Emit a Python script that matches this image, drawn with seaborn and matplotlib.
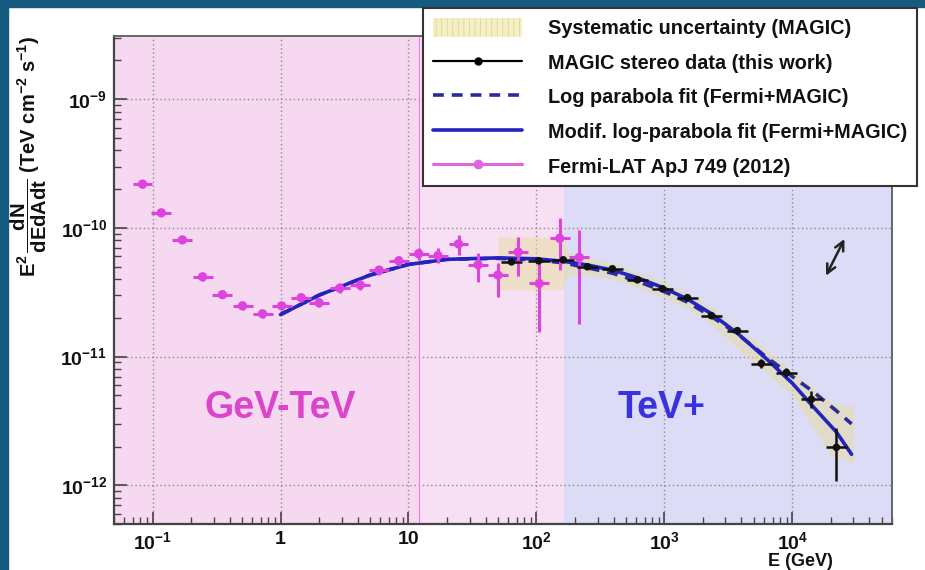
import numpy as np
import pandas as pd
import matplotlib
matplotlib.use("Agg")
import matplotlib.pyplot as plt
import seaborn as sns
from matplotlib.patches import Patch, Rectangle
from matplotlib.lines import Line2D
from matplotlib.ticker import FixedLocator, LogLocator, NullFormatter

# ---------------- data ----------------
fermi_E = [0.0835, 0.117, 0.171, 0.246, 0.352, 0.505, 0.724, 1.02, 1.45, 2.0, 2.9, 4.2,
           5.9, 8.4, 12.0, 17.0, 24.6, 35.0, 50.0, 72.0, 105.0, 152.0, 216.0]
fermi_F = [2.19e-10, 1.31e-10, 8.07e-11, 4.17e-11, 3.03e-11, 2.48e-11, 2.15e-11, 2.48e-11,
           2.87e-11, 2.62e-11, 3.4e-11, 3.6e-11, 4.7e-11, 5.55e-11, 6.3e-11, 6.1e-11,
           7.5e-11, 5.17e-11, 4.3e-11, 6.5e-11, 3.7e-11, 8.3e-11, 5.9e-11]
fermi_F_lo = [2.05e-10, 1.23e-10, 7.6e-11, 3.9e-11, 2.83e-11, 2.32e-11, 2.0e-11, 2.3e-11,
              2.66e-11, 2.42e-11, 3.1e-11, 3.28e-11, 4.3e-11, 5.05e-11, 5.6e-11, 5.3e-11,
              6.2e-11, 3.8e-11, 2.9e-11, 4.2e-11, 1.55e-11, 4.7e-11, 1.78e-11]
fermi_F_hi = [2.33e-10, 1.39e-10, 8.55e-11, 4.45e-11, 3.23e-11, 2.65e-11, 2.3e-11, 2.66e-11,
              3.08e-11, 2.83e-11, 3.7e-11, 3.95e-11, 5.1e-11, 6.1e-11, 7.0e-11, 6.95e-11,
              8.8e-11, 6.4e-11, 5.35e-11, 8.5e-11, 5.9e-11, 1.2e-10, 9.6e-11]
fermi_halfbin_dex = 0.078

magic_E = [63.8, 104, 162, 250, 392, 615, 964, 1513, 2330, 3715, 5725, 8980, 14070, 22070]
magic_F = [5.45e-11, 5.55e-11, 5.65e-11, 4.99e-11, 4.81e-11, 3.95e-11, 3.37e-11, 2.87e-11,
           2.08e-11, 1.59e-11, 8.83e-12, 7.52e-12, 4.65e-12, 1.97e-12]
magic_F_lo = [5.25e-11, 5.35e-11, 5.45e-11, 4.82e-11, 4.64e-11, 3.8e-11, 3.24e-11, 2.75e-11,
              1.98e-11, 1.5e-11, 8.2e-12, 6.9e-12, 4.0e-12, 1.07e-12]
magic_F_hi = [5.65e-11, 5.75e-11, 5.85e-11, 5.16e-11, 4.98e-11, 4.1e-11, 3.5e-11, 3.0e-11,
              2.18e-11, 1.68e-11, 9.5e-12, 8.2e-12, 5.4e-12, 2.8e-12]
magic_halfbin_dex = 0.085

fit_E = [1, 2, 5, 10, 20, 50, 100, 162, 250, 392, 615, 964, 1513, 2330, 3715, 6270,
         10000, 14300, 22000, 29000]
modlp_F = [2.12e-11, 3.0e-11, 4.3e-11, 5.2e-11, 5.7e-11, 5.85e-11, 5.75e-11, 5.5e-11,
           5.15e-11, 4.7e-11, 4.1e-11, 3.45e-11, 2.8e-11, 2.15e-11, 1.52e-11, 9.6e-12,
           6.2e-12, 4.15e-12, 2.6e-12, 1.74e-12]
logpar_F = [2.12e-11, 3.0e-11, 4.3e-11, 5.2e-11, 5.7e-11, 5.8e-11, 5.65e-11, 5.35e-11,
            4.9e-11, 4.45e-11, 3.85e-11, 3.25e-11, 2.65e-11, 2.05e-11, 1.5e-11, 9.9e-12,
            7.0e-12, 5.4e-12, 3.8e-12, 3.0e-12]

band_E = [50, 160, 175, 250, 400, 1000, 2000, 5000, 10000, 20000, 30000]
band_hi = [8.5e-11, 8.5e-11, 6.5e-11, 5.9e-11, 5.3e-11, 3.8e-11, 2.7e-11, 1.35e-11,
           7.8e-12, 4.4e-12, 4.1e-12]
band_lo = [3.3e-11, 3.3e-11, 4.3e-11, 4.3e-11, 4.0e-11, 2.9e-11, 2.0e-11, 9.0e-12,
           5.0e-12, 1.7e-12, 1.5e-12]

region_edges = [0.05, 12.0, 165.0, 6.0e4]
x_ticks = [0.1, 1, 10, 100, 1000, 10000]
x_ticklabels = [r"$10^{-1}$", "1", "10", r"$10^{2}$", r"$10^{3}$", r"$10^{4}$"]
y_ticks = [1e-12, 1e-11, 1e-10, 1e-9]
y_ticklabels = [r"$10^{-12}$", r"$10^{-11}$", r"$10^{-10}$", r"$10^{-9}$"]
legend_labels = ["Systematic uncertainty (MAGIC)", "MAGIC stereo data (this work)",
                 "Log parabola fit (Fermi+MAGIC)", "Modif. log-parabola fit (Fermi+MAGIC)",
                 "Fermi-LAT ApJ 749 (2012)"]

# ---------------- style ----------------
sns.set_theme(style="ticks")
plt.rcParams["font.family"] = ["Liberation Sans", "DejaVu Sans"]
plt.rcParams["font.weight"] = "bold"
plt.rcParams["mathtext.fontset"] = "custom"
plt.rcParams["mathtext.rm"] = "Liberation Sans:bold"
plt.rcParams["mathtext.bf"] = "Liberation Sans:bold"
plt.rcParams["mathtext.it"] = "Liberation Sans:bold"
plt.rcParams["mathtext.default"] = "bf"
plt.rcParams["hatch.linewidth"] = 0.6

FERMI = "#dd44dd"
BLUE = "#2323c0"
NAVY = "#2b2b98"

W, H = 925, 570
fig = plt.figure(figsize=(W / 100, H / 100), dpi=100)
fig.patch.set_facecolor("white")
# slide frame strips
fig.patches.append(Rectangle((0, 1 - 7 / H), 1, 7 / H, transform=fig.transFigure,
                             color="#175a80", zorder=0))
fig.patches.append(Rectangle((0, 0), 8 / W, 1, transform=fig.transFigure,
                             color="#175a80", zorder=0))

ax = fig.add_axes([114 / W, 46 / H, (892 - 114) / W, (524 - 36) / H])
ax.set_xscale("log")
ax.set_yscale("log")
ax.set_xlim(0.05, 6.0e4)
ax.set_ylim(5e-13, 3.1e-9)

ax.axvspan(region_edges[0], region_edges[1], color="#f6d9f1", zorder=0, lw=0)
ax.axvspan(region_edges[1], region_edges[2], color="#f8e0f4", zorder=0, lw=0)
ax.axvspan(region_edges[2], region_edges[3], color="#dddcf6", zorder=0, lw=0)
ax.axvline(region_edges[1], color="#f07ae8", lw=0.8, zorder=1)

ax.grid(True, which="major", ls=(0, (1, 2)), color="#8a8a8a", lw=1.0, zorder=1)

# systematic band
ax.fill_between(band_E, band_lo, band_hi, color="#e6dc9c", alpha=0.5, lw=0, zorder=2)

# fits
sns.lineplot(x=fit_E, y=logpar_F, ax=ax, color=NAVY, lw=2.6, linestyle=(0, (3.0, 2.2)),
             estimator=None, sort=False, legend=False, zorder=4)
sns.lineplot(x=fit_E, y=modlp_F, ax=ax, color=BLUE, lw=2.6,
             estimator=None, sort=False, legend=False, zorder=4)

# Fermi points
fE = np.array(fermi_E)
fF = np.array(fermi_F)
fxerr = [fE - fE / 10 ** fermi_halfbin_dex, fE * 10 ** fermi_halfbin_dex - fE]
fyerr = [fF - np.array(fermi_F_lo), np.array(fermi_F_hi) - fF]
ax.errorbar(fE, fF, xerr=fxerr, yerr=fyerr, fmt="none", ecolor=FERMI, elinewidth=2.2,
            capsize=0, zorder=5)
sns.scatterplot(x=fermi_E, y=fermi_F, ax=ax, color=FERMI, s=45, edgecolor="none",
                zorder=6, legend=False)

# MAGIC points
mE = np.array(magic_E)
mF = np.array(magic_F)
mxerr = [mE - mE / 10 ** magic_halfbin_dex, mE * 10 ** magic_halfbin_dex - mE]
myerr = [mF - np.array(magic_F_lo), np.array(magic_F_hi) - mF]
ax.errorbar(mE, mF, xerr=mxerr, yerr=myerr, fmt="none", ecolor="#111111", elinewidth=1.8,
            capsize=0, zorder=7)
sns.scatterplot(x=magic_E, y=magic_F, ax=ax, color="#111111", s=30, edgecolor="none",
                zorder=8, legend=False)

# region labels
ax.text(1.0, 4.0e-12, "GeV-TeV", color="#dd44cc", fontsize=27, fontweight="bold",
        ha="center", va="center", zorder=9)
ax.text(955, 4.0e-12, "TeV+", color="#3a33dd", fontsize=27, fontweight="bold",
        ha="center", va="center", zorder=9)

# arrow
ax.annotate("", xy=(2.55e4, 8.2e-11), xytext=(1.83e4, 4.25e-11),
            arrowprops=dict(arrowstyle="<->", color="#222222", lw=1.8, mutation_scale=16,
                            shrinkA=0, shrinkB=0),
            zorder=9)

# axes styling
for side in ["left", "bottom"]:
    ax.spines[side].set_color("#444444")
    ax.spines[side].set_linewidth(1.6)
for side in ["top", "right"]:
    ax.spines[side].set_color("#666666")
    ax.spines[side].set_linewidth(1.4)
ax.xaxis.set_major_locator(FixedLocator(x_ticks))
ax.set_xticklabels(x_ticklabels)
ax.yaxis.set_major_locator(FixedLocator(y_ticks))
ax.set_yticklabels(y_ticklabels)
ax.xaxis.set_minor_locator(LogLocator(base=10, subs=np.arange(2, 10), numticks=20))
ax.yaxis.set_minor_locator(LogLocator(base=10, subs=np.arange(2, 10), numticks=20))
ax.xaxis.set_minor_formatter(NullFormatter())
ax.yaxis.set_minor_formatter(NullFormatter())
ax.tick_params(which="both", direction="in", top=False, right=False, color="#444444",
               labelsize=14)
ax.tick_params(which="major", length=9, width=1.2)
ax.tick_params(which="minor", length=5, width=1.0)
ax.tick_params(axis="x", which="major", pad=5)
ax.tick_params(axis="y", which="major", pad=5)
for lab in ax.get_xticklabels() + ax.get_yticklabels():
    lab.set_fontweight("bold")
    lab.set_color("#111111")
ax.set_xlabel("")
ax.set_ylabel("")

fig.text(800 / W, 1 - 562 / H, "E (GeV)", ha="center", va="center", fontsize=13,
         fontweight="bold", color="#111111")
fig.text(29 / W, 1 - 156 / H,
         r"$\mathbf{E^{2}\,\dfrac{dN}{dEdAdt}}$ (TeV cm$^{-2}$ s$^{-1}$)",
         rotation=90, ha="center", va="center", fontsize=14.5, fontweight="bold",
         color="#111111")

# legend
handles = [
    Patch(facecolor="#f4f0c4", edgecolor="#ddd7a0", hatch="|||", lw=0),
    Line2D([], [], color="black", lw=1.6, marker="o", ms=5),
    Line2D([], [], color=NAVY, lw=2.6, linestyle=(0, (3.0, 2.2))),
    Line2D([], [], color=BLUE, lw=2.6),
    Line2D([], [], color="#e066e0", lw=2.2, marker="o", ms=6),
]
leg = fig.legend(handles, legend_labels, loc="upper left",
                 bbox_to_anchor=(423 / W, 1 - 8 / H), bbox_transform=fig.transFigure,
                 frameon=True, fancybox=False, framealpha=1, edgecolor="#333333",
                 prop=dict(family="Liberation Sans", weight="bold", size=14.3),
                 handlelength=4.5, handletextpad=1.3, labelspacing=0.72,
                 handleheight=1.1, borderpad=0.5, borderaxespad=0)
leg.get_frame().set_linewidth(1.5)
for t in leg.get_texts():
    t.set_color("#111111")

fig.savefig("out.png", dpi=100, facecolor="white")
